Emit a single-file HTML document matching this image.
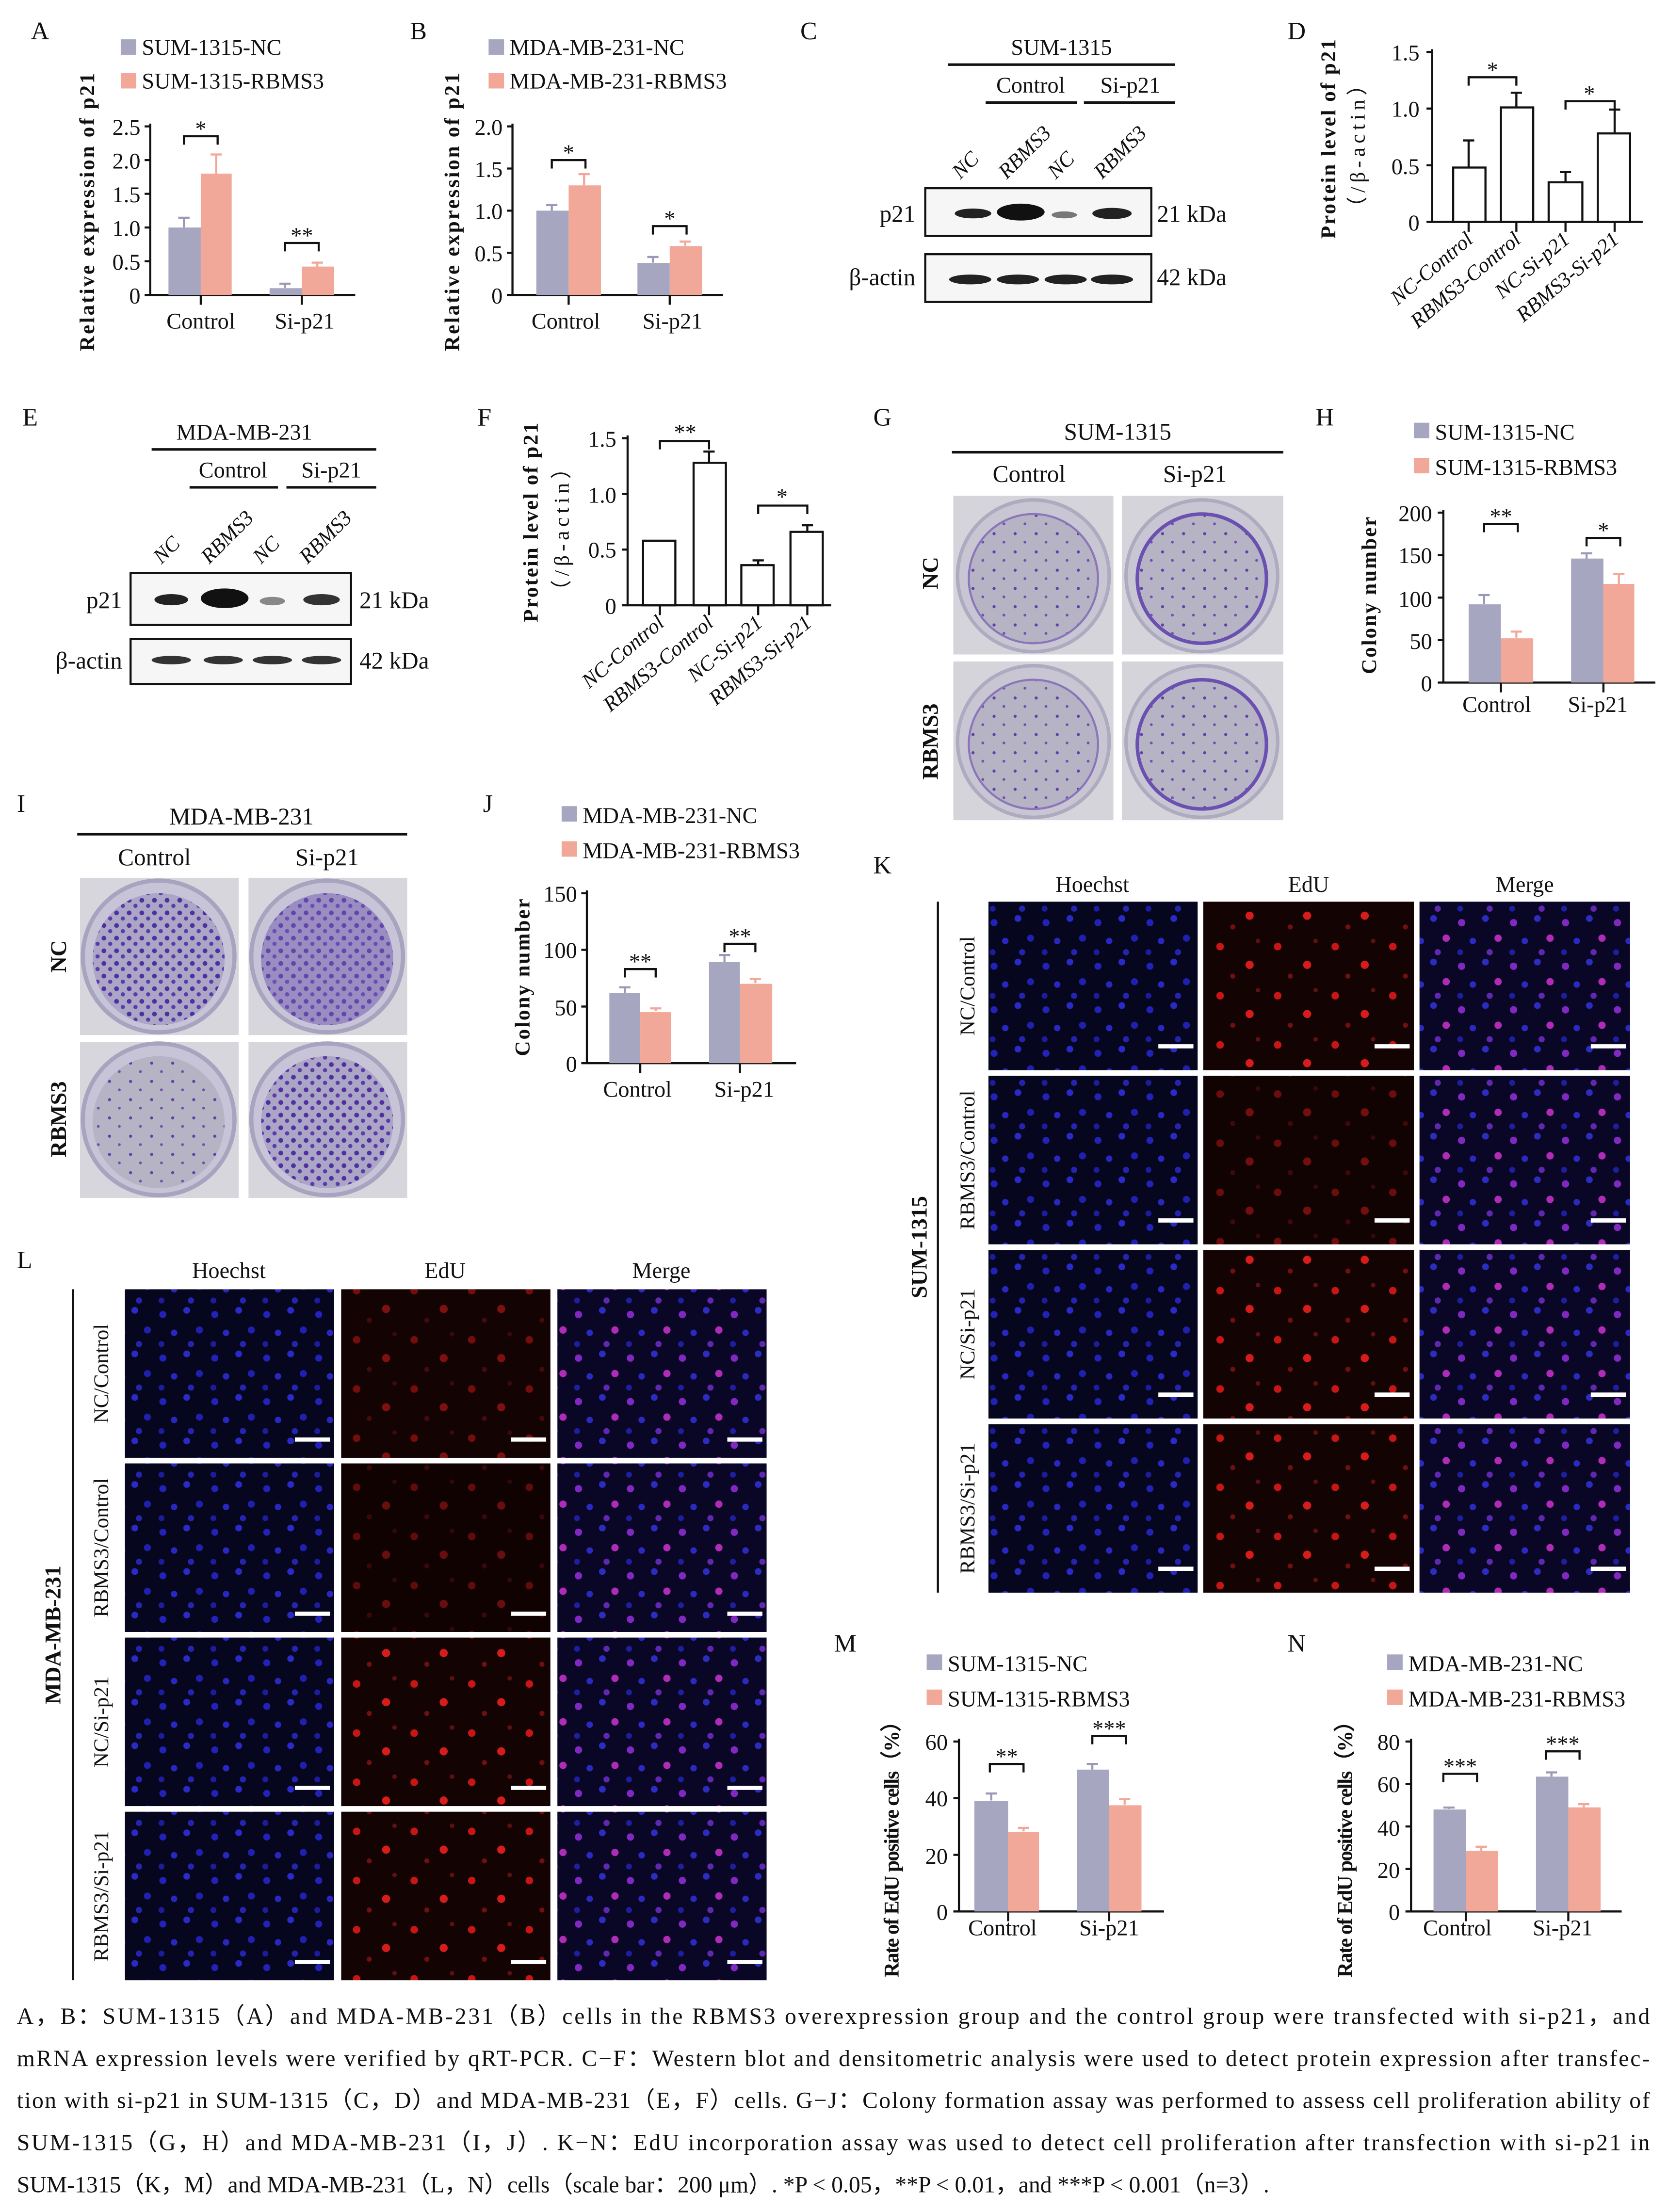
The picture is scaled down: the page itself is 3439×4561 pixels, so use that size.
<!DOCTYPE html>
<html><head><meta charset="utf-8"><style>
html,body{margin:0;padding:0;background:#fff}
svg{display:block}
text{font-family:"Liberation Serif",serif;fill:#111}
.b{font-family:"Liberation Serif",serif;font-weight:bold}
</style></head><body>
<svg width="3439" height="4561" viewBox="0 0 1188 1575" preserveAspectRatio="none" xmlns="http://www.w3.org/2000/svg">
<defs>
<pattern id="hoe" width="37" height="31" patternUnits="userSpaceOnUse">
<rect width="37" height="31" fill="#06061f"/>
<circle cx="5" cy="6" r="2.5" fill="#2222b8"/><circle cx="22" cy="3" r="2.4" fill="#2a2ac8"/><circle cx="31" cy="17" r="2.5" fill="#2020b0"/><circle cx="13" cy="19" r="2.3" fill="#2828c0"/><circle cx="25" cy="27" r="2.2" fill="#2424b0"/><circle cx="4" cy="27" r="2.1" fill="#1c1c9c"/>
</pattern>
<pattern id="edu" width="41" height="35" patternUnits="userSpaceOnUse">
<rect width="41" height="35" fill="#140303"/>
<circle cx="8" cy="9" r="2.7" fill="#c81616"/><circle cx="29" cy="22" r="2.9" fill="#d81c1c"/><circle cx="17" cy="30" r="1.8" fill="#701010"/><circle cx="35" cy="5" r="1.6" fill="#601010"/>
</pattern>
<pattern id="mer" width="37" height="31" patternUnits="userSpaceOnUse">
<rect width="37" height="31" fill="#0a0626"/>
<circle cx="5" cy="6" r="2.6" fill="#8028c0"/><circle cx="22" cy="3" r="2.4" fill="#2c2cc0"/><circle cx="31" cy="17" r="2.6" fill="#b02cb8"/><circle cx="13" cy="19" r="2.3" fill="#2a2ac0"/><circle cx="25" cy="27" r="2.2" fill="#6028b0"/><circle cx="4" cy="27" r="2.1" fill="#1e1ea0"/>
</pattern>
<pattern id="col" width="15" height="13" patternUnits="userSpaceOnUse">
<rect width="15" height="13" fill="#b6b4c4"/>
<circle cx="3" cy="3" r="1.1" fill="#6040a8"/><circle cx="10" cy="9" r="1" fill="#7050b0"/>
</pattern>
<pattern id="col2" width="9" height="9" patternUnits="userSpaceOnUse">
<rect width="9" height="9" fill="#aca6c6"/>
<circle cx="2" cy="2" r="1.7" fill="#4e30a0"/><circle cx="6.5" cy="6" r="1.5" fill="#5c3cac"/>
</pattern>
</defs>
<rect width="1188" height="1575" fill="#fff"/>

<!-- ===== A ===== -->
<text x="22" y="28" font-size="18">A</text>
<rect x="86" y="28" width="11" height="11" fill="#a6a6c0"/><text x="101" y="39" font-size="16">SUM-1315-NC</text>
<rect x="86" y="52" width="11" height="11" fill="#f2a898"/><text x="101" y="63" font-size="16">SUM-1315-RBMS3</text>
<g stroke="#111" stroke-width="1.5" fill="none">
<path d="M107 88V210H253"/><path d="M103 90h4M103 114h4M103 138h4M103 162h4M103 186h4M103 210h4M143 210v7M215 210v7"/>
</g>
<rect x="120" y="162" width="23" height="48" fill="#a6a6c0"/><rect x="143" y="123.6" width="22" height="86.4" fill="#f2a898"/>
<rect x="192" y="205.2" width="23" height="4.8" fill="#a6a6c0"/><rect x="215" y="189.8" width="23" height="20.2" fill="#f2a898"/>
<g stroke-width="1.5"><path d="M131 162V155M127 155h8" stroke="#9a9ab8"/><path d="M154 124V110M150 110h8" stroke="#f2a898"/><path d="M203 205V202M199 202h8" stroke="#9a9ab8"/><path d="M226 190V187M222 187h8" stroke="#f2a898"/></g>
<path d="M131 103V97H155V103M203 179V173H227V179" stroke="#111" stroke-width="1.5" fill="none"/>
<text x="143" y="97" font-size="16" text-anchor="middle">*</text><text x="215" y="173" font-size="16" text-anchor="middle">**</text>
<g font-size="16" text-anchor="end"><text x="100" y="96">2.5</text><text x="100" y="120">2.0</text><text x="100" y="144">1.5</text><text x="100" y="168">1.0</text><text x="100" y="192">0.5</text><text x="100" y="216">0</text></g>
<text x="143" y="234" font-size="16" text-anchor="middle">Control</text><text x="217" y="234" font-size="16" text-anchor="middle">Si-p21</text>
<text class="b" transform="translate(67,250) rotate(-90)" font-size="15" textLength="198">Relative expression of p21</text>

<!-- ===== B ===== -->
<text x="292" y="28" font-size="18">B</text>
<rect x="348" y="28" width="11" height="11" fill="#a6a6c0"/><text x="363" y="39" font-size="16">MDA-MB-231-NC</text>
<rect x="348" y="52" width="11" height="11" fill="#f2a898"/><text x="363" y="63" font-size="16">MDA-MB-231-RBMS3</text>
<g stroke="#111" stroke-width="1.5" fill="none">
<path d="M365 88V210H515"/><path d="M361 90h4M361 120h4M361 150h4M361 180h4M361 210h4M405 210v7M477 210v7"/>
</g>
<rect x="382" y="150" width="23" height="60" fill="#a6a6c0"/><rect x="405" y="132" width="23" height="78" fill="#f2a898"/>
<rect x="454" y="187.2" width="23" height="22.8" fill="#a6a6c0"/><rect x="477" y="175.2" width="23" height="34.8" fill="#f2a898"/>
<g stroke-width="1.5"><path d="M393 150V146M389 146h8" stroke="#9a9ab8"/><path d="M416 132V124M412 124h8" stroke="#f2a898"/><path d="M465 187V183M461 183h8" stroke="#9a9ab8"/><path d="M488 175V172M484 172h8" stroke="#f2a898"/></g>
<path d="M393 120V114H417V120M465 167V161H489V167" stroke="#111" stroke-width="1.5" fill="none"/>
<text x="405" y="114" font-size="16" text-anchor="middle">*</text><text x="477" y="161" font-size="16" text-anchor="middle">*</text>
<g font-size="16" text-anchor="end"><text x="358" y="96">2.0</text><text x="358" y="126">1.5</text><text x="358" y="156">1.0</text><text x="358" y="186">0.5</text><text x="358" y="216">0</text></g>
<text x="403" y="234" font-size="16" text-anchor="middle">Control</text><text x="479" y="234" font-size="16" text-anchor="middle">Si-p21</text>
<text class="b" transform="translate(327,250) rotate(-90)" font-size="15" textLength="198">Relative expression of p21</text>

<!-- ===== C ===== -->
<text x="570" y="28" font-size="18">C</text>
<text x="756" y="39" font-size="16" text-anchor="middle">SUM-1315</text>
<path d="M675 46H837M702 73H767M772 73H837" stroke="#111" stroke-width="1.8"/>
<text x="734" y="66" font-size="16" text-anchor="middle">Control</text><text x="805" y="66" font-size="16" text-anchor="middle">Si-p21</text>
<g font-size="15" font-style="italic">
<text transform="translate(684,128) rotate(-45)">NC</text><text transform="translate(717,128) rotate(-45)">RBMS3</text>
<text transform="translate(752,128) rotate(-45)">NC</text><text transform="translate(785,128) rotate(-45)">RBMS3</text></g>
<rect x="659" y="134" width="161" height="34" fill="#f6f6f6" stroke="#111" stroke-width="1.5"/>
<rect x="659" y="181" width="161" height="34" fill="#f6f6f6" stroke="#111" stroke-width="1.5"/>
<ellipse cx="693" cy="152" rx="13" ry="3.5" fill="#222"/><ellipse cx="727" cy="151" rx="17" ry="6" fill="#111"/><ellipse cx="758" cy="153" rx="9" ry="2.5" fill="#777"/><ellipse cx="792" cy="152" rx="14" ry="4" fill="#222"/>
<g fill="#222"><ellipse cx="691" cy="199" rx="15" ry="3.5"/><ellipse cx="725" cy="199" rx="15" ry="3.5"/><ellipse cx="759" cy="199" rx="15" ry="3.5"/><ellipse cx="792" cy="199" rx="15" ry="3.5"/></g>
<text x="652" y="158" font-size="17" text-anchor="end">p21</text><text x="652" y="203" font-size="17" text-anchor="end">β-actin</text>
<text x="824" y="158" font-size="17">21 kDa</text><text x="824" y="203" font-size="17">42 kDa</text>

<!-- ===== D ===== -->
<text x="917" y="28" font-size="18">D</text>
<g stroke="#111" stroke-width="1.5" fill="none">
<path d="M1020 35V158H1170"/><path d="M1016 37h4M1016 77.3h4M1016 117.7h4M1016 158h4M1046 158v7M1080 158v7M1115 158v7M1150 158v7"/>
<rect x="1035" y="119.3" width="23" height="38.7" fill="#fff"/><rect x="1069" y="76.5" width="23" height="81.5" fill="#fff"/><rect x="1103" y="129.8" width="24" height="28.2" fill="#fff"/><rect x="1138" y="95" width="23" height="63" fill="#fff"/>
<path d="M1046 119V100M1042 100h8M1080 76V66M1076 66h8M1115 130V122.5M1111 122.5h8M1150 95V78M1146 78h8"/>
<path d="M1046 61V55H1080V61M1115 78V72H1150V78"/>
</g>
<text x="1063" y="55" font-size="16" text-anchor="middle">*</text><text x="1132" y="72" font-size="16" text-anchor="middle">*</text>
<g font-size="16" text-anchor="end"><text x="1011" y="43">1.5</text><text x="1011" y="83">1.0</text><text x="1011" y="124">0.5</text><text x="1011" y="164">0</text></g>
<g font-size="15" font-style="italic" text-anchor="end">
<text transform="translate(1050,172) rotate(-40)">NC-Control</text><text transform="translate(1084,172) rotate(-40)">RBMS3-Control</text>
<text transform="translate(1119,172) rotate(-40)">NC-Si-p21</text><text transform="translate(1154,172) rotate(-40)">RBMS3-Si-p21</text></g>
<text class="b" transform="translate(951,170) rotate(-90)" font-size="15" textLength="142">Protein level of p21</text>
<text transform="translate(972,155) rotate(-90)" font-size="15" textLength="102">（/β-actin）</text>

<!-- ===== E ===== -->
<text x="16" y="303" font-size="18">E</text>
<text x="174" y="313" font-size="16" text-anchor="middle">MDA-MB-231</text>
<path d="M108 320H268M135 347H198M204 347H268" stroke="#111" stroke-width="1.8"/>
<text x="166" y="340" font-size="16" text-anchor="middle">Control</text><text x="236" y="340" font-size="16" text-anchor="middle">Si-p21</text>
<g font-size="15" font-style="italic">
<text transform="translate(115,402) rotate(-45)">NC</text><text transform="translate(149,402) rotate(-45)">RBMS3</text>
<text transform="translate(186,402) rotate(-45)">NC</text><text transform="translate(219,402) rotate(-45)">RBMS3</text></g>
<rect x="93" y="408" width="157" height="37" fill="#f6f6f6" stroke="#111" stroke-width="1.5"/>
<rect x="93" y="455" width="157" height="32" fill="#f6f6f6" stroke="#111" stroke-width="1.5"/>
<ellipse cx="122" cy="427" rx="12" ry="4" fill="#222"/><ellipse cx="160" cy="426" rx="17" ry="7" fill="#111"/><ellipse cx="194" cy="428" rx="9" ry="3" fill="#888"/><ellipse cx="229" cy="427" rx="13" ry="4" fill="#333"/>
<g fill="#333"><ellipse cx="122" cy="470" rx="14" ry="3"/><ellipse cx="159" cy="470" rx="14" ry="3"/><ellipse cx="194" cy="470" rx="14" ry="3"/><ellipse cx="229" cy="470" rx="14" ry="3"/></g>
<text x="87" y="433" font-size="17" text-anchor="end">p21</text><text x="87" y="476" font-size="17" text-anchor="end">β-actin</text>
<text x="256" y="433" font-size="17">21 kDa</text><text x="256" y="476" font-size="17">42 kDa</text>

<!-- ===== F ===== -->
<text x="340" y="303" font-size="18">F</text>
<g stroke="#111" stroke-width="1.5" fill="none">
<path d="M447 310V431H592"/><path d="M443 312h4M443 351.7h4M443 391.3h4M443 431h4M470 431v7M505 431v7M540 431v7M575 431v7"/>
<rect x="458" y="385" width="23" height="46" fill="#fff"/><rect x="494" y="329.5" width="23" height="101.5" fill="#fff"/><rect x="528" y="402.4" width="23" height="28.6" fill="#fff"/><rect x="563" y="378.7" width="23" height="52.3" fill="#fff"/>
<path d="M505 329V321.5M501 321.5h8M540 402V399M536 399h8M575 378.7V374M571 374h8"/>
<path d="M470 320V314H505V320M540 366V360H575V366"/>
</g>
<text x="488" y="313" font-size="16" text-anchor="middle">**</text><text x="557" y="359" font-size="16" text-anchor="middle">*</text>
<g font-size="16" text-anchor="end"><text x="439" y="318">1.5</text><text x="439" y="358">1.0</text><text x="439" y="397">0.5</text><text x="439" y="437">0</text></g>
<g font-size="15" font-style="italic" text-anchor="end">
<text transform="translate(474,445) rotate(-40)">NC-Control</text><text transform="translate(509,445) rotate(-40)">RBMS3-Control</text>
<text transform="translate(544,445) rotate(-40)">NC-Si-p21</text><text transform="translate(579,445) rotate(-40)">RBMS3-Si-p21</text></g>
<text class="b" transform="translate(383,443) rotate(-90)" font-size="15" textLength="142">Protein level of p21</text>
<text transform="translate(405,428) rotate(-90)" font-size="15" textLength="102">（/β-actin）</text>

<!-- ===== G ===== -->
<text x="622" y="303" font-size="18">G</text>
<text x="796" y="313" font-size="17" text-anchor="middle">SUM-1315</text>
<path d="M678 322H914" stroke="#111" stroke-width="1.8"/>
<text x="733" y="343" font-size="17" text-anchor="middle">Control</text><text x="851" y="343" font-size="17" text-anchor="middle">Si-p21</text>
<g>
<rect x="679" y="353" width="114" height="113" fill="#d4d4da"/><circle cx="736" cy="410" r="54" fill="#c8c6d2" stroke="#aeaac0" stroke-width="2.5"/><circle cx="736" cy="412" r="46" fill="url(#col)" stroke="#8a76b8" stroke-width="1.5"/>
<rect x="799" y="353" width="115" height="113" fill="#d4d4da"/><circle cx="856" cy="410" r="54" fill="#c8c6d2" stroke="#aeaac0" stroke-width="2.5"/><circle cx="856" cy="412" r="46" fill="url(#col)" stroke="#6a50b0" stroke-width="2.5"/>
<rect x="679" y="471" width="114" height="113" fill="#d4d4da"/><circle cx="736" cy="528" r="54" fill="#c8c6d2" stroke="#aeaac0" stroke-width="2.5"/><circle cx="736" cy="530" r="46" fill="url(#col)" stroke="#8a76b8" stroke-width="1.5"/>
<rect x="799" y="471" width="115" height="113" fill="#d4d4da"/><circle cx="856" cy="528" r="54" fill="#c8c6d2" stroke="#aeaac0" stroke-width="2.5"/><circle cx="856" cy="530" r="46" fill="url(#col)" stroke="#6a50b0" stroke-width="2.5"/>
</g>
<text class="b" transform="translate(668,408) rotate(-90)" font-size="16" text-anchor="middle">NC</text>
<text class="b" transform="translate(668,528) rotate(-90)" font-size="16" text-anchor="middle">RBMS3</text>

<!-- ===== H ===== -->
<text x="937" y="303" font-size="18">H</text>
<rect x="1007" y="301" width="11" height="11" fill="#a6a6c0"/><text x="1022" y="313" font-size="16">SUM-1315-NC</text>
<rect x="1007" y="326" width="11" height="11" fill="#f2a898"/><text x="1022" y="338" font-size="16">SUM-1315-RBMS3</text>
<g stroke="#111" stroke-width="1.5" fill="none">
<path d="M1028 363V486H1179"/><path d="M1024 365h4M1024 395.25h4M1024 425.5h4M1024 455.75h4M1024 486h4M1069 486v7M1142 486v7"/>
</g>
<rect x="1046" y="430.3" width="23" height="55.7" fill="#a6a6c0"/><rect x="1069" y="454.5" width="23" height="31.5" fill="#f2a898"/>
<rect x="1119" y="397.7" width="23" height="88.3" fill="#a6a6c0"/><rect x="1142" y="415.8" width="22" height="70.2" fill="#f2a898"/>
<g stroke-width="1.5"><path d="M1057 430V423.7M1053 423.7h8" stroke="#9a9ab8"/><path d="M1080 454V449.7M1076 449.7h8" stroke="#f2a898"/><path d="M1130 398V394M1126 394h8" stroke="#9a9ab8"/><path d="M1153 416V408.6M1149 408.6h8" stroke="#f2a898"/></g>
<path d="M1057 379V373H1081V379M1130 389V383H1154V389" stroke="#111" stroke-width="1.5" fill="none"/>
<text x="1069" y="373" font-size="16" text-anchor="middle">**</text><text x="1142" y="383" font-size="16" text-anchor="middle">*</text>
<g font-size="16" text-anchor="end"><text x="1020" y="371">200</text><text x="1020" y="401">150</text><text x="1020" y="432">100</text><text x="1020" y="462">50</text><text x="1020" y="492">0</text></g>
<text x="1066" y="507" font-size="16" text-anchor="middle">Control</text><text x="1138" y="507" font-size="16" text-anchor="middle">Si-p21</text>
<text class="b" transform="translate(980,480) rotate(-90)" font-size="15" textLength="112">Colony number</text>

<!-- ===== I ===== -->
<text x="12" y="578" font-size="18">I</text>
<text x="172" y="587" font-size="17" text-anchor="middle">MDA-MB-231</text>
<path d="M55 594H290" stroke="#111" stroke-width="1.8"/>
<text x="110" y="616" font-size="17" text-anchor="middle">Control</text><text x="233" y="616" font-size="17" text-anchor="middle">Si-p21</text>
<g>
<rect x="57" y="625" width="113" height="112" fill="#d6d6dc"/><circle cx="113" cy="681" r="54" fill="#c8c4d8" stroke="#a8a4c0" stroke-width="3"/><circle cx="113" cy="683" r="47" fill="url(#col2)"/>
<rect x="177" y="625" width="113" height="112" fill="#d6d6dc"/><circle cx="233" cy="681" r="54" fill="#c8c4d8" stroke="#a8a4c0" stroke-width="3"/><circle cx="233" cy="683" r="47" fill="#8068bc"/><circle cx="233" cy="683" r="47" fill="url(#col2)" opacity="0.6"/>
<rect x="57" y="742" width="113" height="111" fill="#d6d6dc"/><circle cx="113" cy="797" r="54" fill="#c8c4d8" stroke="#a8a4c0" stroke-width="3"/><circle cx="113" cy="799" r="47" fill="url(#col)"/>
<rect x="177" y="742" width="113" height="111" fill="#d6d6dc"/><circle cx="233" cy="797" r="54" fill="#c8c4d8" stroke="#a8a4c0" stroke-width="3"/><circle cx="233" cy="799" r="47" fill="url(#col2)"/>
</g>
<text class="b" transform="translate(47,681) rotate(-90)" font-size="16" text-anchor="middle">NC</text>
<text class="b" transform="translate(47,797) rotate(-90)" font-size="16" text-anchor="middle">RBMS3</text>

<!-- ===== J ===== -->
<text x="344" y="578" font-size="18">J</text>
<rect x="400" y="574" width="11" height="11" fill="#a6a6c0"/><text x="415" y="586" font-size="16">MDA-MB-231-NC</text>
<rect x="400" y="599" width="11" height="11" fill="#f2a898"/><text x="415" y="611" font-size="16">MDA-MB-231-RBMS3</text>
<g stroke="#111" stroke-width="1.5" fill="none">
<path d="M418 634V757H567"/><path d="M414 636h4M414 676.3h4M414 716.7h4M414 757h4M456 757v7M527 757v7"/>
</g>
<rect x="434" y="707" width="22" height="50" fill="#a6a6c0"/><rect x="456" y="720.7" width="22" height="36.3" fill="#f2a898"/>
<rect x="505" y="685" width="22" height="72" fill="#a6a6c0"/><rect x="527" y="700.5" width="23" height="56.5" fill="#f2a898"/>
<g stroke-width="1.5"><path d="M445 707V703M441 703h8" stroke="#9a9ab8"/><path d="M467 720V718M463 718h8" stroke="#f2a898"/><path d="M516 685V680M512 680h8" stroke="#9a9ab8"/><path d="M538 700V697M534 697h8" stroke="#f2a898"/></g>
<path d="M445 696V690H467V696M516 678V672H538V678" stroke="#111" stroke-width="1.5" fill="none"/>
<text x="456" y="690" font-size="16" text-anchor="middle">**</text><text x="527" y="672" font-size="16" text-anchor="middle">**</text>
<g font-size="16" text-anchor="end"><text x="411" y="642">150</text><text x="411" y="682">100</text><text x="411" y="723">50</text><text x="411" y="763">0</text></g>
<text x="454" y="781" font-size="16" text-anchor="middle">Control</text><text x="530" y="781" font-size="16" text-anchor="middle">Si-p21</text>
<text class="b" transform="translate(377,752) rotate(-90)" font-size="15" textLength="112">Colony number</text>

<!-- ===== K ===== -->
<text x="622" y="622" font-size="18">K</text>
<text x="778" y="635" font-size="16" text-anchor="middle">Hoechst</text><text x="932" y="635" font-size="16" text-anchor="middle">EdU</text><text x="1086" y="635" font-size="16" text-anchor="middle">Merge</text>
<path d="M668 642V1134" stroke="#111" stroke-width="1.5"/>
<text class="b" transform="translate(660,888) rotate(-90)" font-size="16" text-anchor="middle">SUM-1315</text>
<g font-size="15" text-anchor="middle">
<text transform="translate(694,702) rotate(-90)">NC/Control</text><text transform="translate(694,826) rotate(-90)">RBMS3/Control</text>
<text transform="translate(694,950) rotate(-90)">NC/Si-p21</text><text transform="translate(694,1074) rotate(-90)">RBMS3/Si-p21</text></g>
<g>
<rect x="704" y="642" width="149" height="120" fill="url(#hoe)"/><rect x="857" y="642" width="150" height="120" fill="url(#edu)"/><rect x="1011" y="642" width="150" height="120" fill="url(#mer)"/>
<rect x="704" y="766" width="149" height="120" fill="url(#hoe)"/><rect x="857" y="766" width="150" height="120" fill="#110202"/><rect x="857" y="766" width="150" height="120" fill="url(#edu)" opacity="0.5"/><rect x="1011" y="766" width="150" height="120" fill="url(#mer)"/>
<rect x="704" y="890" width="149" height="120" fill="url(#hoe)"/><rect x="857" y="890" width="150" height="120" fill="url(#edu)"/><rect x="1011" y="890" width="150" height="120" fill="url(#mer)"/>
<rect x="704" y="1014" width="149" height="120" fill="url(#hoe)"/><rect x="857" y="1014" width="150" height="120" fill="url(#edu)"/><rect x="1011" y="1014" width="150" height="120" fill="url(#mer)"/>
</g>
<g stroke="#fff" stroke-width="3">
<path d="M825 745h25M979 745h25M1133 745h25M825 869h25M979 869h25M1133 869h25M825 993h25M979 993h25M1133 993h25M825 1117h25M979 1117h25M1133 1117h25"/>
</g>

<!-- ===== L ===== -->
<text x="12" y="903" font-size="18">L</text>
<text x="163" y="910" font-size="16" text-anchor="middle">Hoechst</text><text x="317" y="910" font-size="16" text-anchor="middle">EdU</text><text x="471" y="910" font-size="16" text-anchor="middle">Merge</text>
<path d="M52 918V1410" stroke="#111" stroke-width="1.5"/>
<text class="b" transform="translate(43,1164) rotate(-90)" font-size="16" text-anchor="middle">MDA-MB-231</text>
<g font-size="15" text-anchor="middle">
<text transform="translate(77,978) rotate(-90)">NC/Control</text><text transform="translate(77,1102) rotate(-90)">RBMS3/Control</text>
<text transform="translate(77,1226) rotate(-90)">NC/Si-p21</text><text transform="translate(77,1350) rotate(-90)">RBMS3/Si-p21</text></g>
<g>
<rect x="89" y="918" width="149" height="120" fill="url(#hoe)"/><rect x="243" y="918" width="149" height="120" fill="#110202"/><rect x="243" y="918" width="149" height="120" fill="url(#edu)" opacity="0.55"/><rect x="397" y="918" width="149" height="120" fill="url(#mer)"/>
<rect x="89" y="1042" width="149" height="120" fill="url(#hoe)"/><rect x="243" y="1042" width="149" height="120" fill="#0e0202"/><rect x="243" y="1042" width="149" height="120" fill="url(#edu)" opacity="0.45"/><rect x="397" y="1042" width="149" height="120" fill="url(#mer)"/>
<rect x="89" y="1166" width="149" height="120" fill="url(#hoe)"/><rect x="243" y="1166" width="149" height="120" fill="url(#edu)"/><rect x="397" y="1166" width="149" height="120" fill="url(#mer)"/>
<rect x="89" y="1290" width="149" height="120" fill="url(#hoe)"/><rect x="243" y="1290" width="149" height="120" fill="url(#edu)"/><rect x="397" y="1290" width="149" height="120" fill="url(#mer)"/>
</g>
<g stroke="#fff" stroke-width="3">
<path d="M210 1025h25M364 1025h25M518 1025h25M210 1149h25M364 1149h25M518 1149h25M210 1273h25M364 1273h25M518 1273h25M210 1397h25M364 1397h25M518 1397h25"/>
</g>

<!-- ===== M ===== -->
<text x="594" y="1176" font-size="18">M</text>
<rect x="660" y="1178" width="11" height="11" fill="#a6a6c0"/><text x="675" y="1190" font-size="16">SUM-1315-NC</text>
<rect x="660" y="1203" width="11" height="11" fill="#f2a898"/><text x="675" y="1215" font-size="16">SUM-1315-RBMS3</text>
<g stroke="#111" stroke-width="1.5" fill="none">
<path d="M683 1238V1361H829"/><path d="M679 1240h4M679 1280.3h4M679 1320.7h4M679 1361h4M718 1361v7M790 1361v7"/>
</g>
<rect x="694" y="1282.3" width="24" height="78.7" fill="#a6a6c0"/><rect x="718" y="1304.5" width="22" height="56.5" fill="#f2a898"/>
<rect x="767" y="1260" width="23" height="101" fill="#a6a6c0"/><rect x="790" y="1285.4" width="23" height="75.6" fill="#f2a898"/>
<g stroke-width="1.5"><path d="M706 1282V1277M702 1277h8" stroke="#9a9ab8"/><path d="M729 1304V1301.5M725 1301.5h8" stroke="#f2a898"/><path d="M778 1260V1256M774 1256h8" stroke="#9a9ab8"/><path d="M801 1285V1281M797 1281h8" stroke="#f2a898"/></g>
<path d="M705 1262V1256H729V1262M778 1242V1236H802V1242" stroke="#111" stroke-width="1.5" fill="none"/>
<text x="717" y="1256" font-size="16" text-anchor="middle">**</text><text x="790" y="1236" font-size="16" text-anchor="middle">***</text>
<g font-size="16" text-anchor="end"><text x="675" y="1246">60</text><text x="675" y="1286">40</text><text x="675" y="1327">20</text><text x="675" y="1367">0</text></g>
<text x="714" y="1378" font-size="16" text-anchor="middle">Control</text><text x="790" y="1378" font-size="16" text-anchor="middle">Si-p21</text>
<text class="b" transform="translate(640,1408) rotate(-90)" font-size="15" textLength="190">Rate of EdU positive cells（%）</text>

<!-- ===== N ===== -->
<text x="917" y="1176" font-size="18">N</text>
<rect x="988" y="1178" width="11" height="11" fill="#a6a6c0"/><text x="1003" y="1190" font-size="16">MDA-MB-231-NC</text>
<rect x="988" y="1203" width="11" height="11" fill="#f2a898"/><text x="1003" y="1215" font-size="16">MDA-MB-231-RBMS3</text>
<g stroke="#111" stroke-width="1.5" fill="none">
<path d="M1005 1238V1361H1155"/><path d="M1001 1240h4M1001 1270.25h4M1001 1300.5h4M1001 1330.75h4M1001 1361h4M1044 1361v7M1117 1361v7"/>
</g>
<rect x="1021" y="1288.4" width="23" height="72.6" fill="#a6a6c0"/><rect x="1044" y="1317.9" width="23" height="43.1" fill="#f2a898"/>
<rect x="1094" y="1265" width="23" height="96" fill="#a6a6c0"/><rect x="1117" y="1286.9" width="23" height="74.1" fill="#f2a898"/>
<g stroke-width="1.5"><path d="M1032 1288V1287M1028 1287h8" stroke="#9a9ab8"/><path d="M1055 1318V1314.9M1051 1314.9h8" stroke="#f2a898"/><path d="M1105 1265V1262M1101 1262h8" stroke="#9a9ab8"/><path d="M1128 1287V1284.6M1124 1284.6h8" stroke="#f2a898"/></g>
<path d="M1028 1269V1263H1052V1269M1101 1253V1247H1125V1253" stroke="#111" stroke-width="1.5" fill="none"/>
<text x="1040" y="1263" font-size="16" text-anchor="middle">***</text><text x="1113" y="1247" font-size="16" text-anchor="middle">***</text>
<g font-size="16" text-anchor="end"><text x="997" y="1246">80</text><text x="997" y="1276">60</text><text x="997" y="1307">40</text><text x="997" y="1337">20</text><text x="997" y="1367">0</text></g>
<text x="1038" y="1378" font-size="16" text-anchor="middle">Control</text><text x="1113" y="1378" font-size="16" text-anchor="middle">Si-p21</text>
<text class="b" transform="translate(963,1408) rotate(-90)" font-size="15" textLength="190">Rate of EdU positive cells（%）</text>

<!-- ===== Caption ===== -->
<g font-size="16.5">
<text x="12" y="1441" textLength="1163" lengthAdjust="spacing">A，B：SUM-1315（A）and MDA-MB-231（B）cells in the RBMS3 overexpression group and the control group were transfected with si-p21，and</text>
<text x="12" y="1471" textLength="1163" lengthAdjust="spacing">mRNA expression levels were verified by qRT-PCR. C−F：Western blot and densitometric analysis were used to detect protein expression after transfec-</text>
<text x="12" y="1501" textLength="1163" lengthAdjust="spacing">tion with si-p21 in SUM-1315（C，D）and MDA-MB-231（E，F）cells. G−J：Colony formation assay was performed to assess cell proliferation ability of</text>
<text x="12" y="1531" textLength="1163" lengthAdjust="spacing">SUM-1315（G，H）and MDA-MB-231（I，J）. K−N：EdU incorporation assay was used to detect cell proliferation after transfection with si-p21 in</text>
<text x="12" y="1561" textLength="892" lengthAdjust="spacing">SUM-1315（K，M）and MDA-MB-231（L，N）cells（scale bar：200 μm）. *P &lt; 0.05，**P &lt; 0.01，and ***P &lt; 0.001（n=3）.</text>
</g>
</svg>
</body></html>
